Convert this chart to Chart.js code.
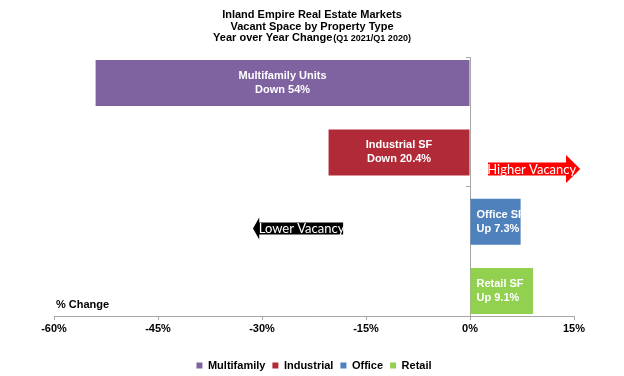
<!DOCTYPE html>
<html>
<head>
<meta charset="utf-8">
<script src="https://cdn.jsdelivr.net/npm/chart.js@4.4.0/dist/chart.umd.min.js"></script>
<style>
  html, body { margin: 0; padding: 0; background: #fff; }
  #wrap { width: 624px; height: 376px; }
</style>
</head>
<body>
<div id="wrap"><canvas id="chart"></canvas></div>
<script>
// --- data ---
const titleLines = ['Inland Empire Real Estate Markets', 'Vacant Space by Property Type', 'Year over Year Change'];
const titleNote = '(Q1 2021/Q1 2020)';
const seriesNames = ['Multifamily', 'Industrial', 'Office', 'Retail'];
const changes = [-54, -20.4, 7.3, 9.1];          // % change, Q1 2021 vs Q1 2020
const rowIndex = [0, 1, 2, 3];                    // one row per property type, top to bottom
const barLabels = [
  ['Multifamily Units', 'Down 54%'],
  ['Industrial SF', 'Down 20.4%'],
  ['Office SF', 'Up 7.3%'],
  ['Retail SF', 'Up 9.1%'],
];
const xMin = -60, xMax = 15, xStep = 15;
const axisTitle = '% Change';
const arrowTexts = { higher: 'Higher Vacancy', lower: 'Lower Vacancy' };

const colors = ['#7F63A1', '#B02A37', '#4F81BD', '#92D050'];
const gray = '#A6A6A6';
const FONT = '"Liberation Sans", Arial, sans-serif';

function drawArrow(ctx, tipX, headX, tailX, yc, half, headHalf, color) {
  ctx.fillStyle = color;
  ctx.beginPath();
  ctx.moveTo(tailX, yc - half);
  ctx.lineTo(headX, yc - half);
  ctx.lineTo(headX, yc - headHalf);
  ctx.lineTo(tipX, yc);
  ctx.lineTo(headX, yc + headHalf);
  ctx.lineTo(headX, yc + half);
  ctx.lineTo(tailX, yc + half);
  ctx.closePath();
  ctx.fill();
}

const extras = {
  id: 'extras',
  afterDatasetsDraw(chart) {
    const { ctx, chartArea, scales: { x, y } } = chart;
    ctx.save();

    // labels inside bars
    ctx.font = 'bold 11px ' + FONT;
    ctx.textBaseline = 'middle';
    chart.data.datasets.forEach((ds, i) => {
      const bar = chart.getDatasetMeta(i).data[0];
      const left = Math.min(bar.x, bar.base), right = Math.max(bar.x, bar.base);
      const h = bar.height;
      ctx.save();
      ctx.beginPath();
      ctx.rect(left, bar.y - h / 2, right - left, h);
      ctx.clip();
      ctx.fillStyle = '#fff';
      let tx;
      if (changes[i] < 0) { ctx.textAlign = 'center'; tx = (left + right) / 2; }
      else { ctx.textAlign = 'left'; tx = left + 6; }
      barLabels[i].forEach((t, k) => ctx.fillText(t, tx, bar.y - 7 + k * 14));
      ctx.restore();
    });

    // direction arrows
    const yh = y.getPixelForValue(1.24);
    drawArrow(ctx, x.getPixelForValue(15.9), x.getPixelForValue(13.85), x.getPixelForValue(2.6), yh, 6.5, 14, '#FF0000');
    const yl = y.getPixelForValue(2.1);
    drawArrow(ctx, x.getPixelForValue(-31.3), x.getPixelForValue(-30.4), x.getPixelForValue(-18.3), yl, 6, 11, '#000000');
    ctx.font = '13px Lato, "Open Sans", sans-serif';
    ctx.fillStyle = '#fff';
    ctx.textAlign = 'center';
    ctx.textBaseline = 'middle';
    ctx.fillText(arrowTexts.higher, x.getPixelForValue(8.9), yh + 0.5);
    ctx.fillText(arrowTexts.lower, x.getPixelForValue(-24.3), yl + 0.5);

    // axis caption
    ctx.fillStyle = '#000';
    ctx.font = 'bold 11px ' + FONT;
    ctx.textAlign = 'left';
    ctx.fillText(axisTitle, chartArea.left + 2, chartArea.bottom - 11);

    // title
    const cx = 312;
    ctx.textAlign = 'center';
    ctx.fillText(titleLines[0], cx, 15);
    ctx.fillText(titleLines[1], cx, 26.5);
    const w1 = ctx.measureText(titleLines[2]).width;
    ctx.font = 'bold 9px ' + FONT;
    const w2 = ctx.measureText(titleNote).width;
    const start = cx - (w1 + w2 + 1) / 2;
    ctx.textAlign = 'left';
    ctx.font = 'bold 11px ' + FONT;
    ctx.fillText(titleLines[2], start, 38);
    ctx.font = 'bold 9px ' + FONT;
    ctx.fillText(titleNote, start + w1 + 1, 38.5);
    ctx.restore();
  }
};

new Chart(document.getElementById('chart'), {
  type: 'bar',
  data: {
    datasets: seriesNames.map((name, i) => ({
      label: name,
      data: [{ x: changes[i], y: rowIndex[i] }],
      backgroundColor: colors[i],
      borderWidth: 0,
      grouped: false,
      maxBarThickness: 46,
    })),
  },
  options: {
    indexAxis: 'y',
    responsive: true,
    maintainAspectRatio: false,
    animation: false,
    layout: { padding: { top: 57, left: 54, right: 50, bottom: -5 } },
    plugins: {
      legend: {
        position: 'bottom',
        labels: {
          boxWidth: 6, boxHeight: 6, padding: 7,
          color: '#000',
          font: { family: FONT, size: 11, weight: 'bold' },
        },
      },
      tooltip: { enabled: false },
    },
    scales: {
      x: {
        type: 'linear',
        min: xMin, max: xMax,
        ticks: {
          stepSize: xStep,
          color: '#000',
          padding: 2,
          font: { family: FONT, size: 11, weight: 'bold' },
          callback: v => v + '%',
        },
        grid: { drawOnChartArea: false, drawTicks: true, tickLength: 4, color: gray },
        border: { color: gray },
        afterFit: s => { s.height = 37; },
      },
      y: {
        type: 'linear',
        reverse: true,
        offset: false,
        min: -0.377, max: 3.362,
        position: { x: 0 },
        ticks: { display: false },
        afterBuildTicks: s => {
          s.ticks = [{ value: s.min }, { value: (s.min + s.max) / 2 }, { value: s.max }];
        },
        grid: { drawOnChartArea: false, drawTicks: true, tickLength: 4, color: gray, offset: false },
        border: { color: gray },
      },
    },
  },
  plugins: [extras],
});
</script>
</body>
</html>
